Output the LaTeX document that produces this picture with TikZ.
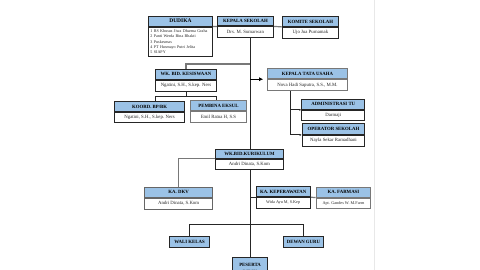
\documentclass[tikz,border=0pt]{standalone}
\usepackage{fontspec}
\setmainfont{Liberation Serif}
\usetikzlibrary{positioning,arrows.meta,backgrounds}
\definecolor{hdblue}{RGB}{155,194,230}
\definecolor{dkline}{RGB}{38,38,38}
\definecolor{gyline}{RGB}{120,120,120}
\definecolor{edge}{RGB}{232,232,232}

\begin{document}
\begin{tikzpicture}[x=1pt,y=-1pt,
    hd/.style={draw=dkline,line width=0.9pt,fill=hdblue,inner sep=0pt,anchor=north west,
      minimum width=#1,minimum height=10pt,font=\fontsize{4.8}{5.5}\selectfont\bfseries},
    bd/.style={draw=dkline,line width=0.9pt,fill=white,inner sep=0pt,below=0pt of #1,
      minimum height=10.5pt,font=\fontsize{4.8}{5.5}\selectfont,text=black!85},
    gy/.style={draw=gyline},
    link/.style={draw=dkline,line width=0.9pt},
    glink/.style={draw=gyline,line width=1.2pt}]
    \useasboundingbox (0,0) rectangle (480,270);
    % page edge
    \draw[edge,line width=0.8pt] (374,0) -- (374,270);

    % top row
    \node[hd=64pt,minimum height=10pt,font=\fontsize{5.5}{6}\selectfont\bfseries] (dud) at (148,15.7) {DUDIKA};
    \node[bd=dud,minimum width=64pt,minimum height=29.3pt,align=left,text width=60pt,
      font=\fontsize{4.1}{5.4}\selectfont] (dud-b) {1 RS Khusus Jiwa Dharma Graha\\2 Panti Werda Bina Bhakti\\3 Puskesmas\\4 PT Husmayo Putri Jelita\\5 SIAPY};
    \node[hd=56pt,minimum height=9.5pt] (ks) at (217,16) {KEPALA SEKOLAH};
    \node[bd=ks,minimum width=56pt] (ks-b) {Drs. M. Sumarwan};
    \node[hd=56pt] (kom) at (282,16) {KOMITE SEKOLAH};
    \node[bd=kom,minimum width=56pt,minimum height=10.7pt] (kom-b) {Ujo Jua Purnamak};

    % kesiswaan
    \node[hd=61pt,minimum height=10.3pt] (kes) at (155,68.7) {WK. BID. KESISWAAN};
    \node[bd=kes,minimum width=61pt,minimum height=11pt] (kes-b) {Ngatini, S.H., S.kep. Ners};
    \node[hd=69.7pt] (koord) at (114.3,101.3) {KOORD. BP/BK};
    \node[bd=koord,minimum width=69.7pt,minimum height=10pt] (koord-b) {Ngatini, S.H., S.kep. Ners};
    \node[hd=55.4pt,gy] (pem) at (190.3,100.3) {PEMBINA EKSUL};
    \node[bd=pem,gy,minimum width=55.4pt,minimum height=10.7pt] (pem-b) {Emil Ratna H, S.S};

    % tata usaha
    \node[hd=80.6pt,gy,minimum height=10.3pt] (kta) at (266.7,68) {KEPALA TATA USAHA};
    \node[bd=kta,gy,minimum width=80.6pt,minimum height=11pt] (kta-b) {Nova Hadi Saputra, S.S., M.M.};
    \node[hd=63pt,minimum height=10.3pt] (adm) at (301.3,98.7) {ADMINISTRASI TU};
    \node[bd=adm,minimum width=63pt,minimum height=10.3pt] (adm-b) {Darmaji};
    \node[hd=62.6pt,minimum height=10.7pt] (op) at (301.7,123.3) {OPERATOR SEKOLAH};
    \node[bd=op,minimum width=62.6pt,minimum height=11pt] (op-b) {Nayla Sekar Ramadhani};

    % kurikulum
    \node[hd=67.4pt,minimum height=9.3pt] (kur) at (215.3,148.7) {WK.BID.KURIKULUM};
    \node[bd=kur,minimum width=67.4pt,minimum height=10.3pt] (kur-b) {Andri Dinata, S.Kom};
    \node[hd=68.3pt,draw=black!60] (dkv) at (144,187) {KA. DKV};
    \node[bd=dkv,draw=black!60,minimum width=68.3pt,minimum height=10.7pt] (dkv-b) {Andri Dinata, S.Kom};
    \node[hd=54pt] (kep) at (255.7,186.3) {KA. KEPERAWATAN};
    \node[bd=kep,minimum width=54pt,minimum height=10.4pt,font=\fontsize{4.2}{5}\selectfont] (kep-b) {Wida Ayu M, S.Kep};
    \node[hd=54.6pt,gy] (far) at (315.7,186.7) {KA. FARMASI};
    \node[bd=far,gy,minimum width=54.6pt,minimum height=10.6pt,font=\fontsize{4.2}{5}\selectfont] (far-b) {Apt. Gandes W. M.Farm};

    % bottom row
    \node[hd=40.3pt,minimum height=11pt] (wali) at (169,235.7) {WALI KELAS};
    \node[hd=40.6pt,minimum height=10.7pt] (dew) at (282.7,236) {DEWAN GURU};
    \node[hd=34.7pt,minimum height=22pt,align=center,font=\fontsize{4.8}{7}\selectfont\bfseries] (pd) at (232.3,256.7) {PESERTA\\DIDIK};

    % connectors behind the boxes
    \begin{scope}[on background layer]
    \draw[glink] (dud.south east) -- (ks.south west);
    \draw[glink] (ks.south east) -- (kom.south west);
    \draw[link] (pd.north |- ks-b.south) -- (pd.north);
    \coordinate (j1) at (pd.north |- 0,64);
    \draw[glink] (j1) -| (kes.north);
    \coordinate (kl) at (155.7,96.3);
    \coordinate (kr) at (216.3,96.3);
    \draw[link] (kes-b.south) -- (kes-b.south |- kl);
    \draw[link] (kl |- koord.north) -- (kl) -- (kr) -- (kr |- pem.north);
    \coordinate (t1) at (290.3,0);
    \draw[link] (t1 |- kta-b.south) -- (t1 |- op.south west);
    \draw[glink] (kur.south west) -| (dkv.north);
    \draw[glink] (kep.south east) -- (far.south west);
    \coordinate (j3) at (pd.north |- 0,224.7);
    \draw[link] (wali.north) |- (j3) -| (dew.north);
    \end{scope}
    \draw[line width=1.3pt,-{Latex[length=4pt,width=4pt]},shorten >=3.5pt] (pd.north |- kta.south west) -- (kta.south west);
    \draw[link,-{Latex[length=2pt,width=2pt]}] (t1 |- adm.south west) -- (adm.south west);
    \draw[link,-{Latex[length=2pt,width=2pt]}] (t1 |- op.south west) -- (op.south west);
    \draw[link] (pd.north |- kep.south west) -- (kep.south west);
\end{tikzpicture}
\end{document}
